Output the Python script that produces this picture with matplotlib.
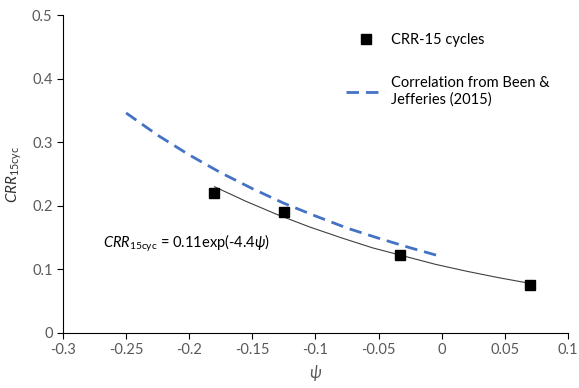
import matplotlib
matplotlib.use("Agg")
import matplotlib.pyplot as plt

# measured CRR at 15 cycles
psi_pts = [-0.18, -0.125, -0.033, 0.07]
crr_pts = [0.220, 0.190, 0.122, 0.075]

# fitted trend line
trend_x = [-0.18, -0.155, -0.13, -0.105, -0.08, -0.055, -0.03, -0.005, 0.02, 0.045, 0.07]
trend_y = [0.230, 0.207, 0.186, 0.167, 0.150, 0.134, 0.121, 0.108, 0.097, 0.087, 0.078]

# Been & Jefferies (2015) correlation
bj_x = [-0.25, -0.225, -0.2, -0.175, -0.15, -0.125, -0.1, -0.075, -0.05, -0.025, 0.0]
bj_y = [0.346, 0.311, 0.280, 0.252, 0.227, 0.204, 0.184, 0.165, 0.149, 0.134, 0.120]

xticks = [-0.3, -0.25, -0.2, -0.15, -0.1, -0.05, 0, 0.05, 0.1]
xtick_labels = ["-0.3", "-0.25", "-0.2", "-0.15", "-0.1", "-0.05", "0", "0.05", "0.1"]
yticks = [0, 0.1, 0.2, 0.3, 0.4, 0.5]
ytick_labels = ["0", "0.1", "0.2", "0.3", "0.4", "0.5"]

plt.rcParams['font.family'] = ['Lato', 'DejaVu Sans']
plt.rcParams['mathtext.fontset'] = 'custom'
plt.rcParams['mathtext.rm'] = 'Lato'
plt.rcParams['mathtext.it'] = 'Lato:italic'

fig = plt.figure(figsize=(5.79, 3.88), dpi=100)
ax = fig.add_axes([0.1088, 0.1418, 0.872, 0.8195])

ax.plot(trend_x, trend_y, color='#404040', lw=0.8)
ax.plot(bj_x, bj_y, color='#4472C4', lw=2, dashes=(4.5, 2.5),
        label='Correlation from Been &\nJefferies (2015)')
ax.plot(psi_pts, crr_pts, 's', color='black', ms=6.5, label='CRR-15 cycles')

ax.set_xlim(-0.3, 0.1)
ax.set_ylim(0, 0.5)
ax.set_xticks(xticks)
ax.set_xticklabels(xtick_labels)
ax.set_yticks(yticks)
ax.set_yticklabels(ytick_labels)
ax.tick_params(labelsize=10.5, labelcolor='#595959', length=4, width=0.8, color='black')
for s in ['top', 'right']:
    ax.spines[s].set_visible(False)
for s in ['left', 'bottom']:
    ax.spines[s].set_linewidth(0.8)

ax.set_xlabel(r'$\mathit{\psi}$', fontsize=12, color='#595959', labelpad=4)
ax.set_ylabel(r'$\mathit{CRR}_{\mathrm{15cyc}}$', fontsize=11, color='#333333', labelpad=6)

ax.text(-0.268, 0.135, r'$\mathit{CRR}_{\mathrm{15cyc}}$ = 0.11exp(-4.4$\mathit{\psi}$)',
        fontsize=10.5, color='black')

handles, labels = ax.get_legend_handles_labels()
leg = fig.legend(handles[::-1], labels[::-1], loc='upper left',
                 bbox_to_anchor=(0.575, 0.948), frameon=False, fontsize=10.5,
                 handlelength=2.7, handletextpad=0.35, labelspacing=2.0)

fig.savefig('out.png', dpi=100)
